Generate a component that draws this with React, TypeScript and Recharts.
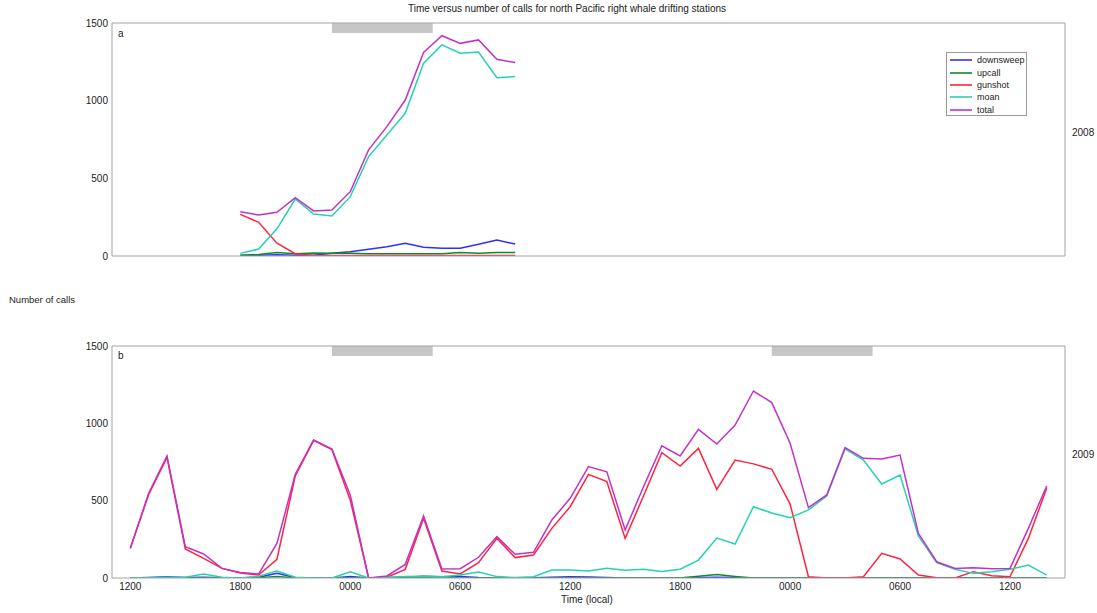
import React from 'react';
import { LineChart, Line, XAxis, YAxis, ReferenceArea, Legend } from 'recharts';

// ---- categories / tick labels ----
const seriesNames = ['downsweep', 'upcall', 'gunshot', 'moan', 'total'];
const seriesColors = ['#2f2fff', '#0e8a2e', '#ff2440', '#26d2b2', '#c232c8'];
const xTickValues = [12, 18, 24, 30, 36, 42, 48, 54, 60];
const xTickLabels = ['1200', '1800', '0000', '0600', '1200', '1800', '0000', '0600', '1200'];
const yTickValues = [0, 500, 1000, 1500];
const xDomain = [11, 63];
const nightStart2008 = [23];
const nightEnd2008 = [28.5];
const nightStart2009 = [23, 47];
const nightEnd2009 = [28.5, 52.5];

// ---- 2008 (panel a), hourly ----
const hours2008 = [18, 19, 20, 21, 22, 23, 24, 25, 26, 27, 28, 29, 30, 31, 32, 33];
const downsweep2008 = [3, 5, 8, 5, 5, 18, 28, 43, 60, 82, 56, 50, 50, 75, 103, 77];
const upcall2008 = [5, 10, 22, 15, 20, 18, 18, 15, 15, 15, 15, 15, 22, 18, 22, 22];
const gunshot2008 = [268, 217, 82, 15, 4, 3, 3, 3, 3, 3, 3, 3, 3, 3, 3, 3];
const moan2008 = [17, 45, 175, 367, 270, 258, 382, 640, 779, 919, 1241, 1359, 1305, 1313, 1148, 1155];
const total2008 = [285, 264, 281, 375, 290, 296, 414, 683, 833, 1004, 1311, 1418, 1369, 1391, 1266, 1245];

// ---- 2009 (panel b), hourly ----
const hours2009 = [
  12, 13, 14, 15, 16, 17, 18, 19, 20, 21, 22, 23, 24, 25, 26, 27, 28, 29, 30, 31, 32, 33, 34, 35, 36,
  37, 38, 39, 40, 41, 42, 43, 44, 45, 46, 47, 48, 49, 50, 51, 52, 53, 54, 55, 56, 57, 58, 59, 60, 61, 62,
];
const downsweep2009 = [
  0, 3, 8, 3, 5, 2, 0, 5, 30, 3, 0, 0, 10, 0, 3, 5, 12, 8, 10, 3, 0, 0, 2, 5, 8,
  6, 3, 0, 0, 0, 2, 3, 5, 3, 0, 0, 0, 0, 0, 0, 0, 0, 0, 0, 0, 0, 0, 0, 0, 0, 0,
];
const upcall2009 = [
  0, 0, 2, 0, 0, 0, 0, 2, 10, 0, 0, 0, 2, 0, 0, 0, 2, 0, 0, 0, 0, 0, 0, 0, 0,
  0, 0, 0, 0, 0, 0, 12, 22, 10, 0, 0, 0, 0, 0, 0, 0, 0, 0, 0, 0, 0, 0, 0, 0, 0, 0,
];
const gunshot2009 = [
  192, 540, 780, 188, 127, 62, 32, 19, 121, 660, 890, 830, 504, 0, 5, 56, 386, 45, 26, 99, 256, 132, 149, 321, 461,
  670, 623, 256, 530, 810, 724, 838, 573, 763, 738, 703, 478, 8, 0, 0, 8, 160, 123, 19, 2, 0, 41, 15, 8, 256, 580,
];
const moan2009 = [
  0, 2, 5, 5, 25, 5, 0, 12, 45, 5, 0, 0, 40, 0, 5, 10, 12, 8, 19, 38, 9, 3, 8, 52, 52,
  46, 63, 50, 57, 42, 57, 116, 258, 220, 461, 420, 390, 440, 530, 835, 763, 608, 666, 272, 99, 56, 30, 41, 56, 84, 19,
];
const total2009 = [
  192, 547, 789, 203, 155, 62, 35, 26, 224, 670, 892, 834, 537, 0, 13, 88, 401, 58, 60, 134, 267, 153, 166, 375, 515,
  720, 687, 310, 590, 855, 789, 961, 866, 989, 1209, 1134, 871, 455, 537, 843, 774, 769, 795, 289, 105, 62, 67, 60, 62, 321, 595,
];

const build = (hours: number[], cols: number[][]) =>
  hours.map((h, i) => {
    const row: any = { h };
    seriesNames.forEach((n, k) => {
      row[n] = cols[k][i];
    });
    return row;
  });

const data2008 = build(hours2008, [downsweep2008, upcall2008, gunshot2008, moan2008, total2008]);
const data2009 = build(hours2009, [downsweep2009, upcall2009, gunshot2009, moan2009, total2009]);

const FONT = '"Liberation Sans", Arial, Helvetica, sans-serif';
const FRAME = '#a3a3a3';
const TEXT = '#222';

const LegendBox = () => (
  <div
    style={{
      border: '1px solid #9a9a9a',
      background: '#fff',
      width: 81,
      height: 64,
      boxSizing: 'border-box',
      padding: '1px 0 0 3px',
      fontFamily: FONT,
      fontSize: 9,
      color: TEXT,
    }}
  >
    {seriesNames.map((n, k) => (
      <div key={n} style={{ display: 'flex', alignItems: 'center', height: 12.4 }}>
        <svg width={24} height={6} style={{ marginRight: 3 }}>
          <line x1={0} y1={3} x2={22} y2={3} stroke={seriesColors[k]} strokeWidth={1.6} />
        </svg>
        <span style={{ lineHeight: '10px' }}>{n}</span>
      </div>
    ))}
  </div>
);

type PanelProps = {
  data: any[];
  starts: number[];
  ends: number[];
  height: number;
  margin: { top: number; right: number; bottom: number; left: number };
  showXLabels: boolean;
  showLegend: boolean;
};

const Panel = ({ data, starts, ends, height, margin, showXLabels, showLegend }: PanelProps) => (
  <LineChart width={1097} height={height} data={data} margin={margin}>
    {starts.map((s, i) => (
      <ReferenceArea
        key={'n' + i}
        x1={s}
        x2={ends[i]}
        y1={1435}
        y2={1500}
        fill="#c6c6c6"
        fillOpacity={1}
        stroke="none"
      />
    ))}
    <XAxis
      dataKey="h"
      type="number"
      domain={xDomain}
      ticks={xTickValues}
      allowDataOverflow
      height={showXLabels ? 20 : 1}
      tickLine={false}
      tickSize={0}
      tickMargin={5}
      axisLine={{ stroke: FRAME }}
      tick={showXLabels ? { fill: TEXT, fontSize: 10, fontFamily: FONT } : false}
      tickFormatter={(v: number) => xTickLabels[xTickValues.indexOf(v)] ?? ''}
      interval={0}
    />
    <XAxis
      xAxisId="top"
      orientation="top"
      type="number"
      domain={xDomain}
      ticks={xTickValues}
      allowDataOverflow
      mirror
      height={1}
      tick={false}
      tickSize={4}
      tickLine={{ stroke: FRAME }}
      axisLine={{ stroke: FRAME }}
      interval={0}
    />
    <XAxis
      xAxisId="bin"
      orientation="bottom"
      type="number"
      domain={xDomain}
      ticks={xTickValues}
      allowDataOverflow
      mirror
      height={1}
      tick={false}
      tickSize={4}
      tickLine={{ stroke: FRAME }}
      axisLine={false}
      interval={0}
    />
    <YAxis
      type="number"
      domain={[0, 1500]}
      ticks={yTickValues}
      allowDataOverflow
      width={40}
      tickLine={false}
      tickSize={0}
      tickMargin={4}
      axisLine={{ stroke: FRAME }}
      tick={{ fill: TEXT, fontSize: 10, fontFamily: FONT }}
      interval={0}
    />
    <YAxis
      yAxisId="lin"
      type="number"
      domain={[0, 1500]}
      ticks={yTickValues}
      allowDataOverflow
      mirror
      width={1}
      tick={false}
      tickSize={4}
      tickLine={{ stroke: FRAME }}
      axisLine={false}
      interval={0}
    />
    <YAxis
      yAxisId="right"
      orientation="right"
      type="number"
      domain={[0, 1500]}
      ticks={yTickValues}
      allowDataOverflow
      mirror
      width={1}
      tick={false}
      tickSize={4}
      tickLine={{ stroke: FRAME }}
      axisLine={{ stroke: FRAME }}
      interval={0}
    />
    {showLegend && (
      <Legend
        layout="vertical"
        align="center"
        verticalAlign="middle"
        content={<LegendBox />}
        wrapperStyle={{ position: 'absolute', left: 946, top: 52, width: 81, height: 64 }}
      />
    )}
    {seriesNames.map((n, k) => (
      <Line
        key={n}
        type="linear"
        dataKey={n}
        name={n}
        stroke={seriesColors[k]}
        strokeWidth={1.5}
        dot={false}
        activeDot={false}
        isAnimationActive={false}
      />
    ))}
  </LineChart>
);

const txt = (extra: React.CSSProperties): React.CSSProperties => ({
  position: 'absolute',
  fontFamily: FONT,
  fontSize: 10,
  color: TEXT,
  whiteSpace: 'nowrap',
  lineHeight: '12px',
  ...extra,
});

export default function App() {
  return (
    <div style={{ position: 'absolute', left: 0, top: 0, width: 1097, height: 613, background: '#fff', overflow: 'hidden' }}>
      <div style={{ position: 'absolute', left: 0, top: 0 }}>
        <Panel
          data={data2008}
          starts={nightStart2008}
          ends={nightEnd2008}
          height={270}
          margin={{ top: 23, right: 32, bottom: 13, left: 72 }}
          showXLabels={false}
          showLegend={true}
        />
      </div>
      <div style={{ position: 'absolute', left: 0, top: 330 }}>
        <Panel
          data={data2009}
          starts={nightStart2009}
          ends={nightEnd2009}
          height={283}
          margin={{ top: 16, right: 32, bottom: 15, left: 72 }}
          showXLabels={true}
          showLegend={false}
        />
      </div>
      <div style={txt({ left: 567, top: 3, transform: 'translateX(-50%)' })}>
        Time versus number of calls for north Pacific right whale drifting stations
      </div>
      <div style={txt({ left: 9, top: 294, fontSize: 9.5 })}>Number of calls</div>
      <div style={txt({ left: 118, top: 28 })}>a</div>
      <div style={txt({ left: 118, top: 350 })}>b</div>
      <div style={txt({ left: 1072, top: 127 })}>2008</div>
      <div style={txt({ left: 1072, top: 449 })}>2009</div>
      <div style={txt({ left: 587, top: 594, transform: 'translateX(-50%)' })}>Time (local)</div>
    </div>
  );
}
